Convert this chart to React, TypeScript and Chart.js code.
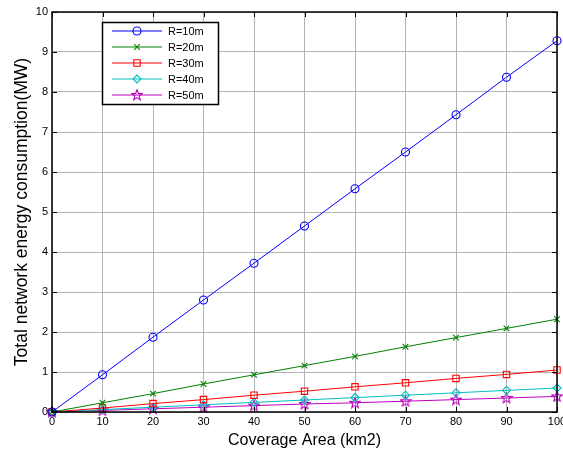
import React, { useEffect, useRef } from "react";
import { Chart, registerables } from "chart.js";
import { drawPoint } from "chart.js/helpers";

Chart.register(...registerables);

const xValues = [0, 10, 20, 30, 40, 50, 60, 70, 80, 90, 100];
const seriesR10 = [0, 0.93, 1.87, 2.8, 3.72, 4.65, 5.58, 6.5, 7.43, 8.37, 9.28];
const seriesR20 = [0, 0.23, 0.46, 0.7, 0.93, 1.16, 1.39, 1.63, 1.86, 2.09, 2.32];
const seriesR30 = [0, 0.1, 0.21, 0.31, 0.42, 0.52, 0.63, 0.73, 0.84, 0.94, 1.05];
const seriesR40 = [0, 0.06, 0.12, 0.18, 0.24, 0.3, 0.36, 0.42, 0.48, 0.54, 0.6];
const seriesR50 = [0, 0.04, 0.08, 0.12, 0.16, 0.2, 0.23, 0.27, 0.31, 0.35, 0.39];
const seriesLabels = ["R=10m", "R=20m", "R=30m", "R=40m", "R=50m"];
const seriesColors = ["#0000ff", "#008000", "#ff0000", "#00bfbf", "#bf00bf"];
const xTitle = "Coverage Area (km2)";
const yTitle = "Total network energy consumption(MW)";

function makePentagram(color: string): HTMLCanvasElement {
  const c = document.createElement("canvas");
  c.width = 12;
  c.height = 12;
  const g = c.getContext("2d")!;
  g.strokeStyle = color;
  g.lineWidth = 1.1;
  g.beginPath();
  for (let i = 0; i < 10; i++) {
    const r = i % 2 === 0 ? 5.5 : 2.3;
    const a = -Math.PI / 2 + (i * Math.PI) / 5;
    const px = 6 + r * Math.cos(a);
    const py = 6.3 + r * Math.sin(a);
    if (i === 0) g.moveTo(px, py);
    else g.lineTo(px, py);
  }
  g.closePath();
  g.stroke();
  return c;
}

export default function App() {
  const ref = useRef<HTMLCanvasElement | null>(null);

  useEffect(() => {
    document.body.style.margin = "0";
    const canvas = ref.current!;
    Chart.defaults.font.family = "'Liberation Sans', Arial, sans-serif";
    const star = makePentagram(seriesColors[4]);
    const styles: any[] = ["circle", "crossRot", "rect", "rectRot", star];
    const all = [seriesR10, seriesR20, seriesR30, seriesR40, seriesR50];

    const datasets = all.map((vals, i) => ({
      label: seriesLabels[i],
      data: vals.map((v, j) => ({ x: xValues[j], y: v })),
      borderColor: seriesColors[i],
      backgroundColor: "rgba(0,0,0,0)",
      pointBackgroundColor: "rgba(0,0,0,0)",
      pointBorderColor: seriesColors[i],
      pointStyle: styles[i],
      pointRadius: i === 2 ? 4.5 : 4,
      pointBorderWidth: 1.1,
      borderWidth: 1,
      clip: false as any,
    }));

    const framePlugin = {
      id: "frame",
      afterDraw(chart: any) {
        const { ctx, chartArea } = chart;
        const { left, right, top, bottom } = chartArea;
        const xs = chart.scales.x;
        const ys = chart.scales.y;
        ctx.save();
        ctx.strokeStyle = "#000";
        ctx.lineWidth = 1;
        ctx.beginPath();
        xs.ticks.forEach((t: any) => {
          const px = Math.round(xs.getPixelForValue(t.value)) + 0.5;
          ctx.moveTo(px, bottom);
          ctx.lineTo(px, bottom - 5);
          ctx.moveTo(px, top);
          ctx.lineTo(px, top + 5);
        });
        ys.ticks.forEach((t: any) => {
          const py = Math.round(ys.getPixelForValue(t.value)) + 0.5;
          ctx.moveTo(left, py);
          ctx.lineTo(left + 5, py);
          ctx.moveTo(right, py);
          ctx.lineTo(right - 5, py);
        });
        ctx.stroke();
        ctx.lineWidth = 1.5;
        ctx.strokeRect(left, top, right - left, bottom - top);

        // legend
        const lx = left + 50;
        const ly = top + 10;
        const lw = 116;
        const lh = 82;
        ctx.fillStyle = "#fff";
        ctx.fillRect(lx, ly, lw, lh);
        ctx.lineWidth = 1.5;
        ctx.strokeStyle = "#000";
        ctx.strokeRect(lx + 0.5, ly + 0.5, lw, lh);
        chart.data.datasets.forEach((ds: any, i: number) => {
          const yy = ly + 9 + 16 * i;
          ctx.strokeStyle = ds.borderColor;
          ctx.lineWidth = 1;
          ctx.beginPath();
          ctx.moveTo(lx + 10, yy);
          ctx.lineTo(lx + 60, yy);
          ctx.stroke();
          ctx.fillStyle = "rgba(0,0,0,0)";
          ctx.lineWidth = 1.1;
          drawPoint(
            ctx,
            { pointStyle: ds.pointStyle, rotation: 0, radius: ds.pointRadius, borderWidth: 1.1 } as any,
            lx + 35,
            yy
          );
          ctx.fillStyle = "#000";
          ctx.font = "11px 'Liberation Sans', Arial, sans-serif";
          ctx.textBaseline = "middle";
          ctx.textAlign = "left";
          ctx.fillText(ds.label, lx + 66, yy + 1);
        });
        ctx.restore();
      },
    };

    const chart = new Chart(canvas, {
      type: "line",
      data: { datasets },
      plugins: [framePlugin],
      options: {
        animation: false,
        responsive: false,
        maintainAspectRatio: false,
        layout: { padding: { top: 12, right: 6, left: 0, bottom: 0 } },
        plugins: { legend: { display: false }, tooltip: { enabled: false } },
        scales: {
          x: {
            type: "linear",
            min: 0,
            max: 100,
            ticks: { stepSize: 10, color: "#000", font: { size: 11 }, padding: 3, maxRotation: 0 },
            grid: { color: "#b4b4b4", lineWidth: 1, drawTicks: false },
            border: { display: false },
            title: {
              display: true,
              text: xTitle,
              color: "#000",
              font: { size: 16 },
              padding: { top: 1.5, bottom: 0 },
            },
            afterFit(scale: any) {
              scale.height = 38;
              scale.paddingLeft = 0;
              scale.paddingRight = 0;
            },
          },
          y: {
            type: "linear",
            min: 0,
            max: 10,
            ticks: { stepSize: 1, color: "#000", font: { size: 11 }, padding: 4 },
            grid: { color: "#b4b4b4", lineWidth: 1, drawTicks: false },
            border: { display: false },
            title: {
              display: true,
              text: yTitle,
              color: "#000",
              font: { size: 17.5 },
              padding: { top: 12, bottom: 0 },
            },
            afterFit(scale: any) {
              scale.width = 52;
              scale.paddingTop = 0;
              scale.paddingBottom = 0;
            },
          },
        },
      },
    });
    return () => chart.destroy();
  }, []);

  return (
    <div style={{ position: "fixed", left: 0, top: 0, width: 563, height: 450, background: "#fff" }}>
      <canvas ref={ref} width={563} height={450} style={{ width: 563, height: 450 }} />
    </div>
  );
}
